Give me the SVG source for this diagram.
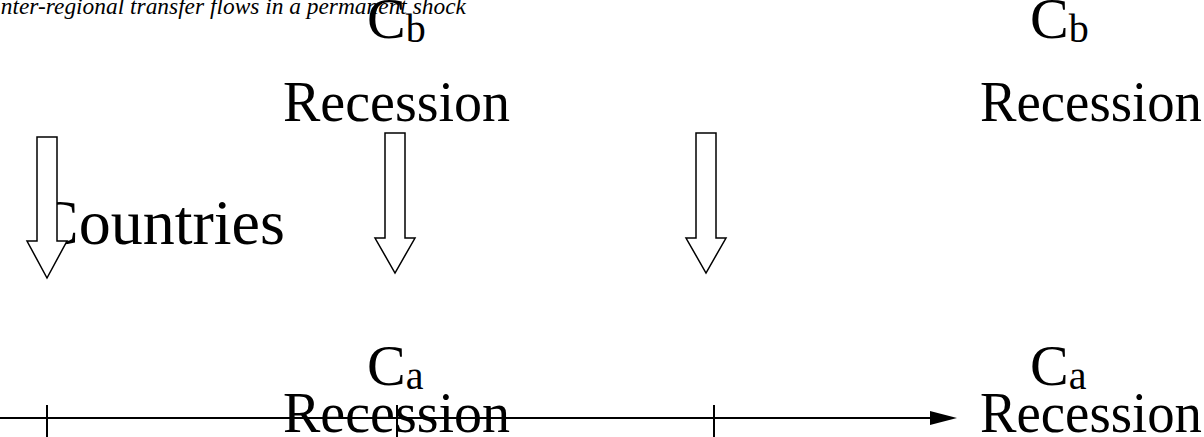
<svg xmlns="http://www.w3.org/2000/svg" width="1204" height="437" viewBox="0 0 1204 437">
<style>
.t{font-family:"Liberation Serif","Times New Roman",serif;fill:#000}
.big{font-size:56px}
.cc{font-size:58px}
.sub{font-size:40px}
.title{font-size:23.4px;font-style:italic}
.blk{fill:#fff;stroke:#000;stroke-width:1.5}
.ln{stroke:#000;stroke-width:2;fill:none}
</style>
<rect width="1204" height="437" fill="#fff"/>
<text class="t title" x="-7" y="14">Inter-regional transfer flows in a permanent shock</text>
<g id="cb-left">
<text class="t cc" x="367" y="38">C<tspan class="sub" dy="4">b</tspan></text>
<text class="t big" x="283" y="121">Recession</text>
</g>
<g id="cb-right">
<text class="t cc" x="1030" y="38">C<tspan class="sub" dy="4">b</tspan></text>
<text class="t big" x="980" y="121" textLength="222" lengthAdjust="spacingAndGlyphs">Recession</text>
</g>
<g id="countries">
<text class="t" x="36" y="244" style="font-size:64px">Countries</text>
</g>
<g id="ca-left">
<text class="t cc" x="367" y="385">C<tspan class="sub" dy="4">a</tspan></text>
<text class="t big" x="283" y="432">Recession</text>
</g>
<g id="ca-right">
<text class="t cc" x="1030" y="385">C<tspan class="sub" dy="4">a</tspan></text>
<text class="t big" x="980" y="432" textLength="222" lengthAdjust="spacingAndGlyphs">Recession</text>
</g>
<g id="connectors">
<polygon class="blk" points="37,137 57,137 57,241 67,241 47,278 27,241 37,241"/>
<polygon class="blk" points="385,133 405,133 405,238 415,238 395,273 375,238 385,238"/>
<polygon class="blk" points="696,133 716,133 716,238 726,238 706,273 686,238 696,238"/>
<line class="ln" x1="0" y1="418" x2="932" y2="418"/>
<polygon points="930,411 957,418 930,425" fill="#000"/>
<line class="ln" x1="47" y1="405" x2="47" y2="437"/>
<line class="ln" x1="397" y1="405" x2="397" y2="437"/>
<line class="ln" x1="714" y1="405" x2="714" y2="437"/>
</g>
</svg>
